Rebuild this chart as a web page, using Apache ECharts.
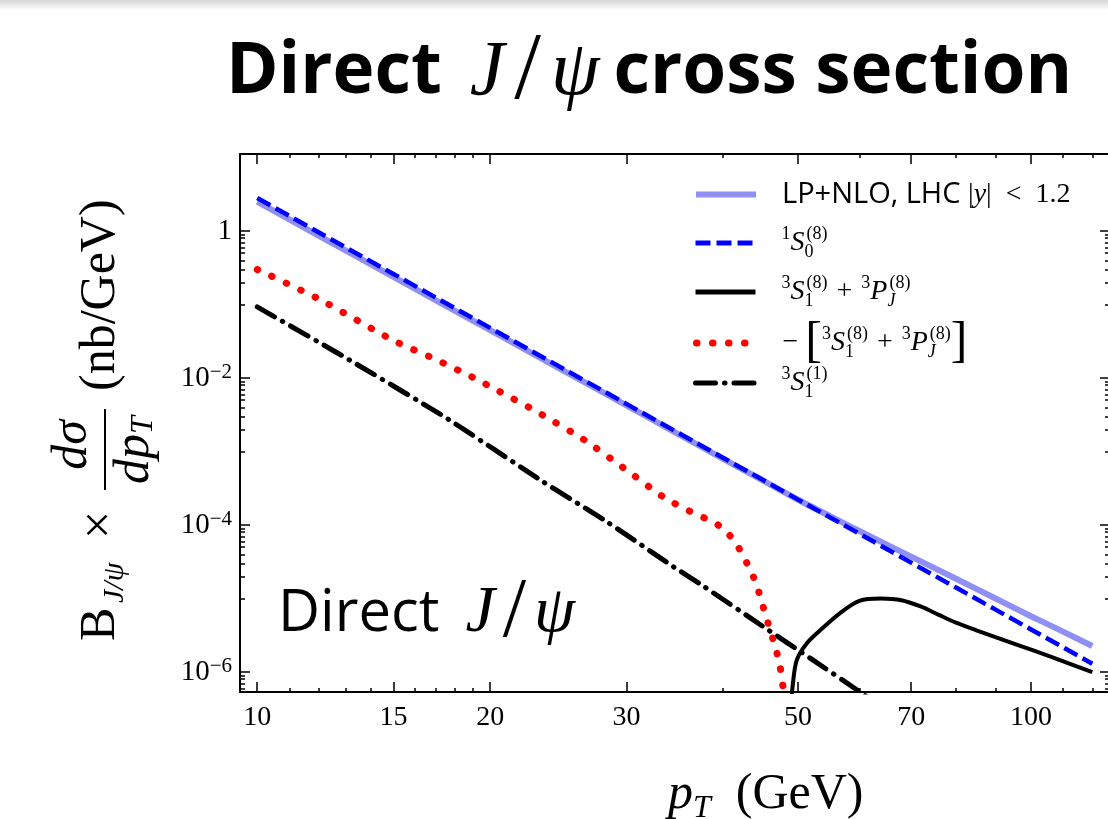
<!DOCTYPE html>
<html>
<head>
<meta charset="utf-8">
<script src="https://cdn.jsdelivr.net/npm/echarts@6/dist/echarts.min.js"></script>
<style>
  html, body { margin: 0; padding: 0; background: #ffffff; }
  #chart { width: 1108px; height: 819px; }
</style>
</head>
<body>
<div id="chart"></div>
<script>
// Direct J/psi differential cross section, B x dsigma/dpT (nb/GeV) versus pT (GeV)

// pT grid shared by the two smooth curves
const ptMain = [10, 12, 15, 20, 25, 30, 35, 40, 45, 50, 55, 60, 70, 80, 90, 100, 110, 120];
// LP+NLO total, LHC |y| < 1.2
const lpNlo = [2.51, 0.871, 0.238, 0.0448, 0.01225, 4.25e-3, 1.73e-3, 7.96e-4, 4.07e-4, 2.21e-4,
               1.32e-4, 8.3e-5, 3.72e-5, 1.86e-5, 1.0e-5, 5.75e-6, 3.55e-6, 2.26e-6];
// 1S0(8) channel
const s0Octet = [2.82, 0.966, 0.261, 0.0482, 0.0130, 4.46e-3, 1.80e-3, 8.22e-4, 4.13e-4, 2.22e-4,
                 1.27e-4, 7.62e-5, 3.08e-5, 1.41e-5, 7.06e-6, 3.80e-6, 2.17e-6, 1.30e-6];

// -(3S1(8) + 3PJ(8)) where the sum is negative
const ptNegative = [10, 12, 15, 17, 19, 20.5, 23, 26.5, 30, 33.5, 36.5, 38.5, 40, 41.5, 42.5,
                    43.5, 44.3, 45, 45.6, 46.2, 46.9, 47.4, 47.8, 48.2];
const s1pNegative = [0.30, 0.12, 0.0324, 0.018, 0.0102, 6.68e-3, 3.47e-3, 1.43e-3, 5.62e-4, 2.4e-4,
                     1.48e-4, 1.15e-4, 9.0e-5, 5.82e-5, 3.72e-5, 2.32e-5, 1.42e-5, 8.1e-6, 5.1e-6,
                     3.24e-6, 1.9e-6, 1.17e-6, 6.3e-7, 2.0e-7];

// 3S1(8) + 3PJ(8) where the sum is positive
const ptPositive = [48.9, 49.2, 49.8, 51.3, 53.4, 56.6, 60, 64, 68, 72, 76, 80, 85, 96, 106, 120];
const s1pPositive = [3.0e-7, 6.5e-7, 1.45e-6, 2.45e-6, 3.7e-6, 6.3e-6, 9.3e-6, 1.0e-5, 9.5e-6,
                     7.8e-6, 6.0e-6, 4.7e-6, 3.7e-6, 2.35e-6, 1.62e-6, 1.0e-6];

// 3S1(1) colour-singlet channel
const ptSinglet = [10, 13, 17.5, 23.4, 28.3, 34.5, 37.7, 45, 52, 59.6, 62];
const s1Singlet = [0.093, 0.019, 2.92e-3, 3.89e-4, 1.11e-4, 2.71e-5, 1.48e-5, 4.2e-6, 1.51e-6, 5.7e-7, 4.27e-7];

// tick values
const xMajorTicks = [10, 15, 20, 30, 50, 70, 100];
const xMinorTicks = [11, 12, 13, 14, 16, 17, 18, 19, 40, 60, 80, 90, 110, 120];
const yMajorTicks = [1, 1e-2, 1e-4, 1e-6];
const yMinorTicks = [0.9, 0.8, 0.7, 0.6, 0.5, 0.4, 0.3, 0.2, 0.1,
                     9e-3, 8e-3, 7e-3, 6e-3, 5e-3, 4e-3, 3e-3, 2e-3, 1e-3,
                     9e-5, 8e-5, 7e-5, 6e-5, 5e-5, 4e-5, 3e-5, 2e-5, 1e-5,
                     9e-7, 8e-7, 7e-7, 6e-7];

const X_MIN = 9.5, X_MAX = 126.5;
const Y_MIN = 5.35e-7, Y_MAX = 11.2;

const SERIF = '"Liberation Serif", "DejaVu Serif", serif';
const SANS = '"Open Sans", "Noto Sans", sans-serif';

const pairs = (xs, ys) => xs.map((x, i) => [x, ys[i]]);

function xAxisDef(position, ticks, len, withLabels, withLine) {
  return {
    type: 'log', logBase: 10, min: X_MIN, max: X_MAX, position: position,
    axisLine: { show: withLine, onZero: false, lineStyle: { color: '#000', width: 2 } },
    axisTick: { show: true, inside: true, length: len, customValues: ticks,
                lineStyle: { color: '#000', width: 1.5 } },
    axisLabel: withLabels ? {
      show: true, customValues: ticks, margin: 12, color: '#000',
      fontFamily: SERIF, fontSize: 28,
      formatter: v => String(Math.round(v))
    } : { show: false },
    splitLine: { show: false }, minorTick: { show: false }, axisPointer: { show: false }
  };
}

function yAxisDef(position, ticks, len, withLabels, withLine) {
  return {
    type: 'log', logBase: 10, min: Y_MIN, max: Y_MAX, position: position,
    axisLine: { show: withLine, onZero: false, lineStyle: { color: '#000', width: 2 } },
    axisTick: { show: true, inside: true, length: len, customValues: ticks,
                lineStyle: { color: '#000', width: 1.5 } },
    axisLabel: withLabels ? {
      show: true, customValues: ticks, margin: 8, color: '#000',
      formatter: v => {
        const e = Math.round(Math.log10(v));
        return e === 0 ? '{n|1}' : '{n|10}{e|\u2212' + Math.abs(e) + '}';
      },
      rich: {
        n: { fontFamily: SERIF, fontSize: 29, lineHeight: 32, color: '#000' },
        e: { fontFamily: SERIF, fontSize: 21, lineHeight: 20, verticalAlign: 'top', color: '#000' }
      }
    } : { show: false },
    splitLine: { show: false }, minorTick: { show: false }, axisPointer: { show: false }
  };
}

// rich styles for legend entries
const legendRich = {
  s: { fontFamily: SANS, fontSize: 29, lineHeight: 36, color: '#000' },
  r: { fontFamily: SERIF, fontSize: 28, lineHeight: 36, color: '#000' },
  m: { fontFamily: SERIF, fontStyle: 'italic', fontSize: 28, lineHeight: 36, color: '#000' },
  br: { fontFamily: SERIF, fontSize: 50, lineHeight: 36, color: '#000' },
  g: { width: 9 },
  sup: { fontFamily: SERIF, fontSize: 18, lineHeight: 18, verticalAlign: 'top', color: '#000' },
  sub: { fontFamily: SERIF, fontSize: 18, lineHeight: 18, verticalAlign: 'bottom', width: 2, color: '#000' },
  subJ: { fontFamily: SERIF, fontStyle: 'italic', fontSize: 18, lineHeight: 18, verticalAlign: 'bottom', width: 2, color: '#000' }
};

const legendItems = [
  { name: 'lpnlo', cy: 198, w: 6,
    label: '{s|LP+NLO, LHC }{r||}{m|y}{r||  <  1.2}' },
  { name: 's0', cy: 243, w: 5,
    label: '{sup|1}{m|S}{sub|0}{sup|(8)}' },
  { name: 's1p', cy: 292, w: 5,
    label: '{sup|3}{m|S}{sub|1}{sup|(8)}{g| }{r|+}{g| }{sup|3}{m|P}{subJ|J}{sup|(8)}' },
  { name: 's1pneg', cy: 336, w: 7,
    label: '{r|\u2212 }{br|[}{sup|3}{m|S}{sub|1}{sup|(8)}{g| }{r|+}{g| }{sup|3}{m|P}{subJ|J}{sup|(8)}{br|]}' },
  { name: 'singlet', cy: 383, w: 5,
    label: '{sup|3}{m|S}{sub|1}{sup|(1)}' }
];

const chart = echarts.init(document.getElementById('chart'), null, { renderer: 'canvas' });

const option = {
  animation: false,
  backgroundColor: '#ffffff',
  grid: { left: 240, top: 154, width: 870, height: 538, containLabel: false, outerBoundsMode: 'none' },
  xAxis: [
    xAxisDef('bottom', xMajorTicks, 10, true, true),
    xAxisDef('bottom', xMinorTicks, 4, false, false),
    xAxisDef('top', xMajorTicks, 10, false, true),
    xAxisDef('top', xMinorTicks, 4, false, false)
  ],
  yAxis: [
    yAxisDef('left', yMajorTicks, 10, true, true),
    yAxisDef('left', yMinorTicks, 5, false, false),
    yAxisDef('right', yMajorTicks, 10, false, true),
    yAxisDef('right', yMinorTicks, 5, false, false)
  ],
  legend: legendItems.map(it => ({
    data: [it.name], left: 693, top: it.cy - 18, padding: 0,
    itemWidth: 60, itemHeight: 14, selectedMode: false,
    lineStyle: { width: it.w },
    itemStyle: { opacity: 0, borderWidth: 0 },
    textStyle: { color: '#000', rich: legendRich, padding: [0, 0, 0, 21] },
    formatter: () => it.label
  })),
  series: [
    { name: 'lpnlo', type: 'line', data: pairs(ptMain, lpNlo), symbol: 'none', smooth: 0.2,
      lineStyle: { color: '#8f8ff5', width: 6 }, z: 2 },
    { name: 's0', type: 'line', data: pairs(ptMain, s0Octet), symbol: 'none',
      lineStyle: { color: '#0000ff', width: 4.5, type: [15, 6] }, z: 3 },
    { name: 'singlet', type: 'line', data: pairs(ptSinglet, s1Singlet), symbol: 'none', smooth: 0.2,
      lineStyle: { color: '#000000', width: 5, type: [20, 9, 0.5, 9], cap: 'round' }, z: 3 },
    { name: 's1pneg', type: 'line', data: pairs(ptNegative, s1pNegative), symbol: 'none', smooth: 0.2,
      lineStyle: { color: '#ff0000', width: 7, type: [0.5, 15.5], cap: 'round' }, z: 4 },
    { name: 's1p', type: 'line', data: pairs(ptPositive, s1pPositive), symbol: 'none', smooth: 0.3,
      lineStyle: { color: '#000000', width: 4 }, z: 4 }
  ],
  graphic: [
    { type: 'rect', z: 0, silent: true,
      shape: { x: 0, y: 0, width: 1108, height: 10 },
      style: { fill: new echarts.graphic.LinearGradient(0, 0, 0, 1,
        [{ offset: 0, color: '#d6d6d6' }, { offset: 1, color: '#ffffff' }]) } },
    // slide title
    { type: 'text', x: 226, y: 73, z: 10,
      style: {
        text: '{t|Direct}{g1| }{m|J}{g2| }{sl|/}{g2| }{m|\u03c8}{g3| }{t|cross section}',
        verticalAlign: 'middle', align: 'left',
        rich: {
          t: { fontFamily: SANS, fontWeight: 'bold', fontSize: 71, lineHeight: 90, fill: '#000' },
          m: { fontFamily: SERIF, fontStyle: 'italic', fontSize: 78, lineHeight: 90, fill: '#000' },
          sl: { fontFamily: SERIF, fontSize: 96, lineHeight: 90, fill: '#000' },
          g1: { width: 28 }, g2: { width: 10 }, g3: { width: 14 }
        }
      } },
    // in-plot label
    { type: 'text', x: 278, y: 614, z: 10,
      style: {
        text: '{t|Direct}{g1| }{m|J}{g2| }{sl|/}{g2| }{m|\u03c8}',
        verticalAlign: 'middle', align: 'left',
        rich: {
          t: { fontFamily: SANS, fontSize: 58, lineHeight: 70, fill: '#000' },
          m: { fontFamily: SERIF, fontStyle: 'italic', fontSize: 66, lineHeight: 70, fill: '#000' },
          sl: { fontFamily: SERIF, fontSize: 84, lineHeight: 70, fill: '#000' },
          g1: { width: 26 }, g2: { width: 8 }
        }
      } },
    // x-axis title
    { type: 'text', x: 668, y: 795, z: 10,
      style: {
        text: '{m|p}{s|T}{r|  (GeV)}',
        verticalAlign: 'middle', align: 'left',
        rich: {
          m: { fontFamily: SERIF, fontStyle: 'italic', fontSize: 50, lineHeight: 60, fill: '#000' },
          s: { fontFamily: SERIF, fontStyle: 'italic', fontSize: 32, lineHeight: 30, verticalAlign: 'bottom', fill: '#000' },
          r: { fontFamily: SERIF, fontSize: 50, lineHeight: 60, fill: '#000' }
        }
      } },
    // y-axis title, drawn bottom to top
    { type: 'group', x: 105, y: 641, rotation: Math.PI / 2, z: 10,
      children: [
        { type: 'text', x: 0, y: -4,
          style: { text: 'B', font: '50px ' + SERIF, fill: '#000', align: 'left', verticalAlign: 'middle' } },
        { type: 'text', x: 38, y: 10,
          style: { text: 'J/\u03c8', font: 'italic 30px ' + SERIF, fill: '#000', align: 'left', verticalAlign: 'middle' } },
        { type: 'text', x: 102, y: -4,
          style: { text: '\u00d7', font: '50px ' + SERIF, fill: '#000', align: 'left', verticalAlign: 'middle' } },
        { type: 'text', x: 196, y: -32,
          style: { text: 'd\u03c3', font: 'italic 50px ' + SERIF, fill: '#000', align: 'center', verticalAlign: 'middle' } },
        { type: 'line', shape: { x1: 151, y1: 0, x2: 232, y2: 0 }, style: { stroke: '#000', lineWidth: 2 } },
        { type: 'text', x: 191, y: 30,
          style: {
            text: '{m|dp}{s|T}', align: 'center', verticalAlign: 'middle',
            rich: {
              m: { fontFamily: SERIF, fontStyle: 'italic', fontSize: 50, lineHeight: 50, fill: '#000' },
              s: { fontFamily: SERIF, fontStyle: 'italic', fontSize: 32, lineHeight: 26, verticalAlign: 'bottom', fill: '#000' }
            }
          } },
        { type: 'text', x: 250, y: -4,
          style: { text: '(nb/GeV)', font: '50px ' + SERIF, fill: '#000', align: 'left', verticalAlign: 'middle' } }
      ] }
  ]
};

chart.setOption(option);
</script>
</body>
</html>
